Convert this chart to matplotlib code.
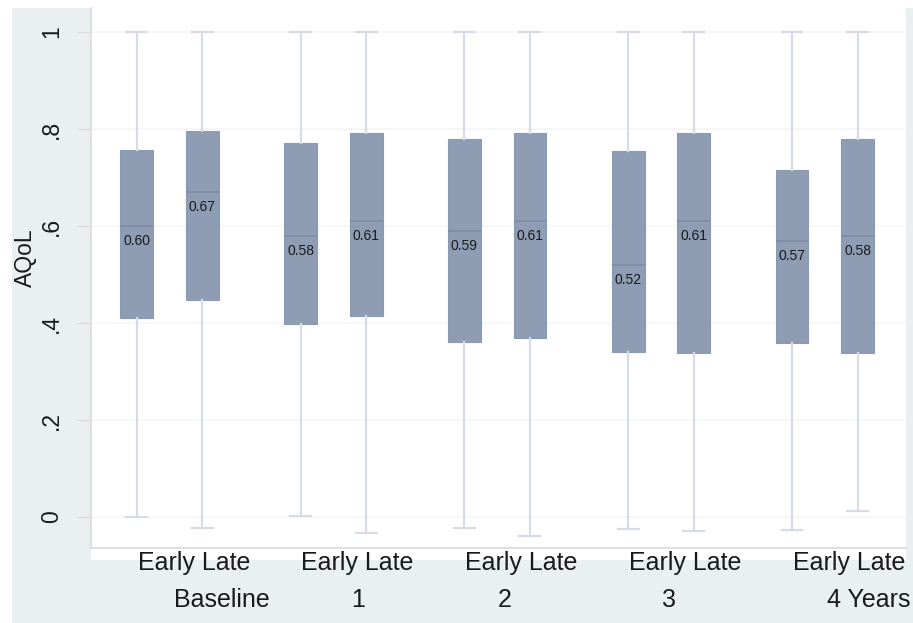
import matplotlib
matplotlib.use("Agg")
import matplotlib.pyplot as plt
from matplotlib.patches import Rectangle

plt.rcParams['font.family'] = ['Liberation Sans', 'DejaVu Sans']

# AQoL summaries per wave and onset group
waves = ["Baseline", "1", "2", "3", "4 Years"]
groups = ["Early", "Late"]
medians = [0.60, 0.67, 0.58, 0.61, 0.59, 0.61, 0.52, 0.61, 0.57, 0.58]
q1 = [0.410, 0.447, 0.398, 0.414, 0.361, 0.369, 0.340, 0.338, 0.359, 0.338]
q3 = [0.757, 0.796, 0.771, 0.792, 0.779, 0.792, 0.755, 0.791, 0.715, 0.779]
whisk_lo = [0.000, -0.023, 0.002, -0.033, -0.023, -0.039, -0.024, -0.029, -0.027, 0.012]
whisk_hi = [1.0, 1.0, 1.0, 1.0, 1.0, 1.0, 1.0, 1.0, 1.0, 1.0]
yticks = [0, 0.2, 0.4, 0.6, 0.8, 1.0]
ytick_labels = ["0", ".2", ".4", ".6", ".8", "1"]

W, H = 913, 623
fig = plt.figure(figsize=(W / 100, H / 100), dpi=100, facecolor="white")

# Graph region background
fig.patches.append(Rectangle((12 / W, 0), (W - 12) / W, (H - 8) / H,
                             transform=fig.transFigure, facecolor="#eaeff2",
                             edgecolor="none", zorder=-2))
# White plot region (extends slightly below the axis line)
fig.patches.append(Rectangle((91 / W, (H - 560) / H), (906 - 91) / W, (560 - 8) / H,
                             transform=fig.transFigure, facecolor="white",
                             edgecolor="none", zorder=-1))

ax = fig.add_axes([91 / W, (H - 548) / H, (906 - 91) / W, (548 - 8) / H])
ax.set_facecolor("white")

# Box positions: two boxes per wave, with a gap between waves
positions = []
for i in range(len(waves)):
    positions += [i * 2.5, i * 2.5 + 1]

stats = []
for k in range(len(medians)):
    stats.append(dict(med=medians[k], q1=q1[k], q3=q3[k],
                      whislo=whisk_lo[k], whishi=whisk_hi[k], fliers=[]))

box_col = "#8e9db3"
whisk_col = "#d6dbe6"
ax.bxp(stats, positions=positions, widths=0.5, patch_artist=True,
       showfliers=False,
       boxprops=dict(facecolor=box_col, edgecolor="#8a9ab0", linewidth=0.8),
       medianprops=dict(color="#7d8ca2", linewidth=1.1),
       whiskerprops=dict(color=whisk_col, linewidth=1.6),
       capprops=dict(color=whisk_col, linewidth=1.6),
       capwidths=0.32)

# Median value labels
for x, m in zip(positions, medians):
    ax.annotate(f"{m:.2f}", xy=(x, m), xytext=(0, -15), textcoords="offset pixels",
                ha="center", va="center", fontsize=10, color="#1a1a1a", zorder=5)

ax.set_xlim(-0.70, 11.74)
ax.set_ylim(-0.0639, 1.0495)

ax.set_yticks(yticks)
ax.set_yticklabels(ytick_labels, rotation=90, va="center", fontsize=16.5, color="#1a1a1a")
ax.tick_params(axis="y", length=10, color="#d8dce2", pad=10)
ax.set_xticks([])
ax.yaxis.grid(True, color="#f4f6f8", linewidth=1.2)
ax.set_axisbelow(True)

for side in ["top", "right"]:
    ax.spines[side].set_visible(False)
ax.spines["left"].set_color("#d8dce2")
ax.spines["bottom"].set_color("#d8dce2")
ax.spines["left"].set_linewidth(1.2)
ax.spines["bottom"].set_linewidth(1.2)

ax.set_ylabel("AQoL", fontsize=16.5, color="#1a1a1a")
ax.yaxis.set_label_coords(-0.066, 0.537)

# Category labels under the axis
tr = ax.get_xaxis_transform()
for i in range(len(waves)):
    mid = i * 2.5 + 0.5
    ax.text(mid + 0.37, -0.028, " ".join(groups), transform=tr, ha="center",
            va="center", fontsize=18, color="#1a1a1a", clip_on=False)

wave_x = [1.30, 3.37, 5.62, 8.12, 10.53]
wave_ha = ["center", "center", "center", "center", "left"]
for name, x, ha in zip(waves, wave_x, wave_ha):
    ax.text(x, -0.096, name, transform=tr, ha=ha, va="center",
            fontsize=18, color="#1a1a1a", clip_on=False)

fig.savefig("out.png", dpi=100, facecolor=fig.get_facecolor())
